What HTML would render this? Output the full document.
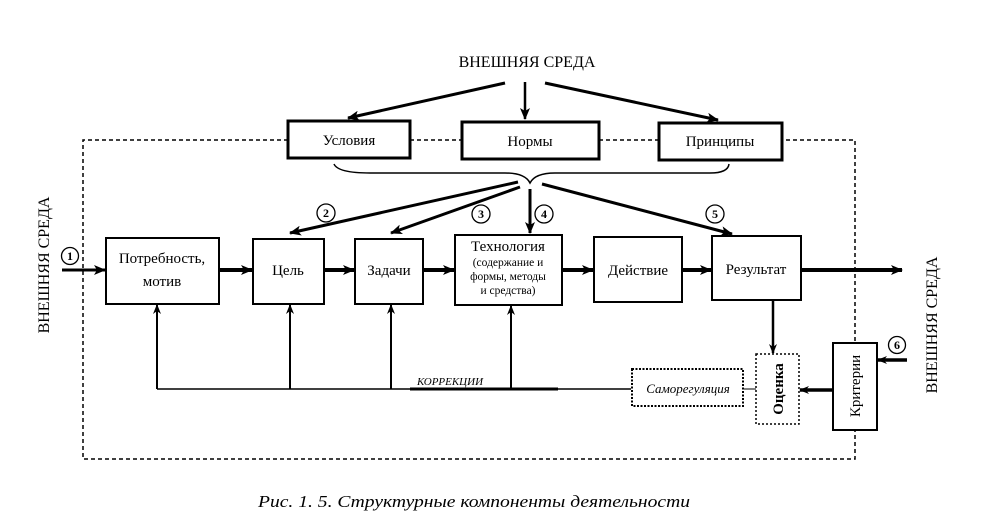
<!DOCTYPE html>
<html><head><meta charset="utf-8"><style>
html,body{margin:0;padding:0;background:#fff;}
svg{display:block;font-family:"Liberation Serif","DejaVu Serif",serif;}
</style></head><body>
<svg width="985" height="532" viewBox="0 0 985 532" xmlns="http://www.w3.org/2000/svg">
<defs>
<marker id="a" markerWidth="10" markerHeight="8" refX="9" refY="4" orient="auto" markerUnits="userSpaceOnUse"><path d="M0,0 L10,4 L0,8 L3,4 z" fill="#000"/></marker>
<marker id="b" markerWidth="12" markerHeight="10" refX="11" refY="5" orient="auto" markerUnits="userSpaceOnUse"><path d="M0,0 L12,5 L0,10 L3,5 z" fill="#000"/></marker>
</defs>
<path d="M288,140 H83 V459 H855 V140 H782 M410,140 H461 M599,140 H659" fill="none" stroke="#000" stroke-width="1.5" stroke-dasharray="4,3"/>
<text x="527" y="67" font-size="16" text-anchor="middle">ВНЕШНЯЯ СРЕДА</text>
<g stroke="#000" stroke-width="3" fill="none">
<line x1="505" y1="83" x2="348" y2="118" marker-end="url(#b)"/>
<line x1="525" y1="82" x2="525" y2="119" stroke-width="2.5" marker-end="url(#b)"/>
<line x1="545" y1="83" x2="718" y2="120" marker-end="url(#b)"/>
</g>
<g stroke="#000" stroke-width="3" fill="#fff">
<rect x="288" y="121" width="122" height="37"/>
<rect x="462" y="122" width="137" height="37"/>
<rect x="659" y="123" width="123" height="37"/>
</g>
<g font-size="15" text-anchor="middle">
<text x="349" y="145">Условия</text>
<text x="530" y="146">Нормы</text>
<text x="720" y="146">Принципы</text>
</g>
<path d="M334,164 Q338,173 370,173 L505,173 Q525,173 530,183 Q535,173 555,173 L710,173 Q728,173 729,164" fill="none" stroke="#000" stroke-width="1.5"/>
<g stroke="#000" stroke-width="3" fill="none">
<line x1="518" y1="182" x2="290" y2="233" marker-end="url(#b)"/>
<line x1="520" y1="187" x2="391" y2="233" marker-end="url(#b)"/>
<line x1="530" y1="189" x2="530" y2="233" marker-end="url(#b)"/>
<line x1="542" y1="184" x2="732" y2="234" marker-end="url(#b)"/>
<line x1="62" y1="270" x2="105" y2="270" marker-end="url(#b)"/>
<line x1="219" y1="270" x2="252" y2="270" stroke-width="4" marker-end="url(#b)"/>
<line x1="324" y1="270" x2="354" y2="270" stroke-width="4" marker-end="url(#b)"/>
<line x1="423" y1="270" x2="454" y2="270" stroke-width="4" marker-end="url(#b)"/>
<line x1="562" y1="270" x2="593" y2="270" stroke-width="4" marker-end="url(#b)"/>
<line x1="682" y1="270" x2="711" y2="270" stroke-width="4" marker-end="url(#b)"/>
<line x1="801" y1="270" x2="902" y2="270" stroke-width="4" marker-end="url(#b)"/>
<line x1="773" y1="300" x2="773" y2="353" stroke-width="2.5" marker-end="url(#a)"/>
<line x1="833" y1="390" x2="800" y2="390" stroke-width="3.5" marker-end="url(#a)"/>
<line x1="907" y1="360" x2="878" y2="360" stroke-width="3.5" marker-end="url(#a)"/>
</g>
<g fill="#fff" stroke="#000" stroke-width="1.3">
<circle cx="70" cy="256" r="8.5"/><circle cx="326" cy="213" r="9"/><circle cx="481" cy="214" r="9"/><circle cx="544" cy="214" r="9"/><circle cx="715" cy="214" r="9"/><circle cx="897" cy="345" r="8.5"/>
</g>
<g font-size="12" font-weight="bold" text-anchor="middle">
<text x="70" y="260">1</text><text x="326" y="217">2</text><text x="481" y="218">3</text><text x="544" y="218">4</text><text x="715" y="218">5</text><text x="897" y="349">6</text>
</g>
<g stroke="#000" stroke-width="2" fill="#fff">
<rect x="106" y="238" width="113" height="66"/>
<rect x="253" y="239" width="71" height="65"/>
<rect x="355" y="239" width="68" height="65"/>
<rect x="455" y="235" width="107" height="70"/>
<rect x="594" y="237" width="88" height="65"/>
<rect x="712" y="236" width="89" height="64"/>
<rect x="833" y="343" width="44" height="87"/>
</g>
<g font-size="15" text-anchor="middle">
<text x="162" y="263">Потребность,</text><text x="162" y="286">мотив</text>
<text x="288" y="275">Цель</text>
<text x="389" y="275">Задачи</text>
<text x="508" y="251">Технология</text>
<text x="508" y="266" font-size="11.5">(содержание и</text>
<text x="508" y="280" font-size="11.5">формы, методы</text>
<text x="508" y="294" font-size="11.5">и средства)</text>
<text x="638" y="275">Действие</text>
<text x="756" y="274">Результат</text>
</g>
<g stroke="#000" fill="none">
<path d="M631,389 H157" stroke-width="1.5"/>
<line x1="410" y1="389" x2="558" y2="389" stroke-width="3"/>
<line x1="743" y1="389" x2="756" y2="389" stroke-width="1"/>
<line x1="157" y1="389" x2="157" y2="305" stroke-width="2" marker-end="url(#a)"/>
<line x1="290" y1="389" x2="290" y2="305" stroke-width="2" marker-end="url(#a)"/>
<line x1="391" y1="389" x2="391" y2="305" stroke-width="2" marker-end="url(#a)"/>
<line x1="511" y1="389" x2="511" y2="306" stroke-width="2" marker-end="url(#a)"/>
</g>
<text x="450" y="385" font-size="11" font-style="italic" text-anchor="middle">КОРРЕКЦИИ</text>
<rect x="632" y="369" width="111" height="37" fill="#fff" stroke="#000" stroke-width="2" stroke-dasharray="2,1.5"/>
<text x="688" y="393" font-size="13" font-style="italic" text-anchor="middle">Саморегуляция</text>
<rect x="756" y="354" width="43" height="70" fill="#fff" stroke="#000" stroke-width="1.5" stroke-dasharray="2,2"/>
<text transform="translate(783,389) rotate(-90)" font-size="15" text-anchor="middle" font-weight="bold">Оценка</text>
<text transform="translate(860,386) rotate(-90)" font-size="15" text-anchor="middle">Критерии</text>
<text transform="translate(49,265) rotate(-90)" font-size="16" text-anchor="middle">ВНЕШНЯЯ СРЕДА</text>
<text transform="translate(937,325) rotate(-90)" font-size="16" text-anchor="middle">ВНЕШНЯЯ СРЕДА</text>
<text x="258" y="507" font-size="17" font-style="italic" textLength="432" lengthAdjust="spacingAndGlyphs">Рис. 1. 5. Структурные компоненты деятельности</text>
</svg>
</body></html>
